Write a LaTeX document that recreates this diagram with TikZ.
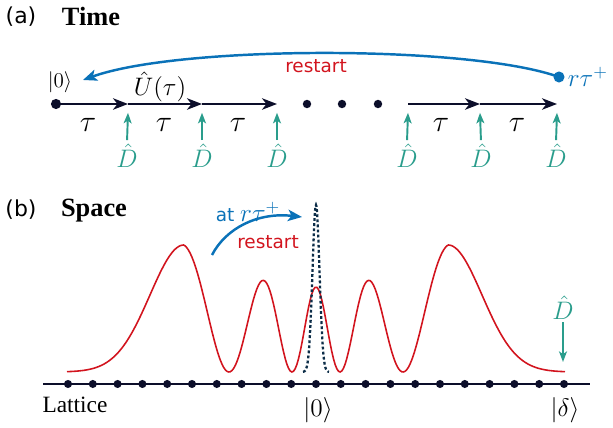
\documentclass[tikz,border=0pt]{standalone}
\usepackage{fontspec}
\setsansfont{DejaVu Sans}
\newfontfamily\headfont{Liberation Serif}
\usetikzlibrary{arrows.meta}
\definecolor{navy}{RGB}{12,14,42}
\definecolor{peakcol}{RGB}{12,45,72}
\definecolor{detcol}{RGB}{42,157,140}
\definecolor{rblue}{RGB}{10,114,184}
\definecolor{rred}{RGB}{210,20,30}
\begin{document}
\begin{tikzpicture}[x=0.02cm, y=-0.02cm,
    declare function={ph(\v)=7.039*\v-2.1323*\v*\v+0.3076*\v*\v*\v;
      wav(\v)=(\v<1.32)*(85+42*(\v/1.32)^2)*(cos(deg(ph(\v))))^2+(\v>=1.32)*127*exp(-((\v-1.32)^2)/0.2312);},
    tline/.style={navy, line width=1.4pt, -{Stealth[length=8.5pt, width=6.5pt, inset=2.5pt]}},
    detect/.style={detcol, line width=1.1pt, -{Stealth[length=6pt, width=4.5pt, inset=1.5pt]}},
    arc/.style={rblue, line width=1.4pt, -{Stealth[length=8pt, width=6.5pt, inset=2pt]}},
    dot/.style={circle, fill=navy, inner sep=0pt, minimum size=#1},
    dlab/.style={detcol, inner sep=1pt, font=\fontsize{13.5}{15}\selectfont},
    panel/.style={font=\fontsize{12.5}{14}\sffamily},
    heading/.style={font=\fontsize{15}{17}\headfont\bfseries},
    sans/.style={font=\fontsize{10.5}{12}\sffamily}]
    \useasboundingbox (0,0) rectangle (613,428);
    % (a) Time
    \node[panel] (pa) at (21,17) {(a)};
    \node[heading] (time) at (91,16) {Time};
    % time axis
    \foreach \i/\x in {0/56,1/128,2/202,3/277,4/408,5/480,6/557}
      \coordinate (t\i) at (\x,104);
    \draw[tline] (t0) -- (t1);
    \draw[tline] (t1) -- (t2);
    \draw[tline] (t2) -- (t3);
    \draw[tline] (t4) -- (t5);
    \draw[tline] (t5) -- (t6);
    \node[dot=5.8pt] (start) at (t0) {};
    \foreach \x [count=\k] in {307,342,378}
      \node[dot=4.8pt] (ell\k) at (\x,104) {};
    % steps
    \foreach \x [count=\k] in {88,164,238,441,517}
      \node (tau\k) at (\x,125) {\LARGE $\tau$};
    \node (ket0) at (60,82) {\large $|0\rangle$};
    \node (U) at (160,87) {\fontsize{13.5}{15}\selectfont $\hat{U}(\tau)$};
    % detections
    \foreach \i/\x in {1/127,2/202,3/277,4/407,5/481,6/556}{
      \node[dlab] (D\i) at (\x,156) {$\hat{D}$};
      \draw[detect, shorten <=1pt] (D\i.north) -- ([yshift=-5pt]t\i);
    }
    % restart
    \node[circle, fill=rblue, inner sep=0pt, minimum size=6.3pt] (rdot) at (559,77) {};
    \node[rblue, anchor=west, inner sep=1.5pt] (rlab) at (rdot.east) {\Large $r\tau^+$};
    \coordinate (arcend) at (83,80);
    \draw[arc] (rdot.center) .. controls (470,45) and (180,45) .. (arcend);
    \node[sans, rred] (resta) at (316,66) {restart};
    % (b) Space
    \node[panel] (pb) at (21,210) {(b)};
    \node[heading] (space) at (94,211) {Space};
    % lattice
    \coordinate (l0) at (43,384);
    \coordinate (l1) at (590,384);
    \draw[navy, line width=0.9pt] (l0) -- (l1);
    \foreach \i in {0,...,20}
      \node[dot=4.6pt] (s\i) at ({68+24.8*\i},384) {};
    \node (lattice) at (75,405) {\fontsize{13.3}{15}\headfont Lattice};
    \node (ket0b) at (318,410) {\Large $|0\rangle$};
    \node (ketd) at (565,410) {\Large $|\delta\rangle$};
    % wave packet
    \draw[rred, line width=0.9pt]
      plot[domain=67:565, samples=300] (\x, {372-wav(abs(\x-316)/100)});
    % initial state
    \draw[peakcol, line width=1.3pt, dash pattern=on 1.6pt off 1.3pt]
      plot[domain=303:329, samples=61] (\x, {372-167*exp(-((\x-316)^2)/24.5)});
    % restart arrow
    \coordinate (bs) at (212,255);
    \coordinate (be) at (302,217);
    \draw[arc] (bs) .. controls (226,228) and (258,212) .. (be);
    \node[rblue, inner sep=1pt] (atlab) at (248,212) {\fontsize{10.5}{12}\sffamily at \Large $r\tau^+$};
    \node[sans, rred] (restb) at (268,242) {restart};
    % detector
    \node[dlab] (Db) at (563,308) {$\hat{D}$};
    \coordinate (dend) at (563,362);
    \draw[detect] (Db.south) -- (dend);
\end{tikzpicture}
\end{document}
